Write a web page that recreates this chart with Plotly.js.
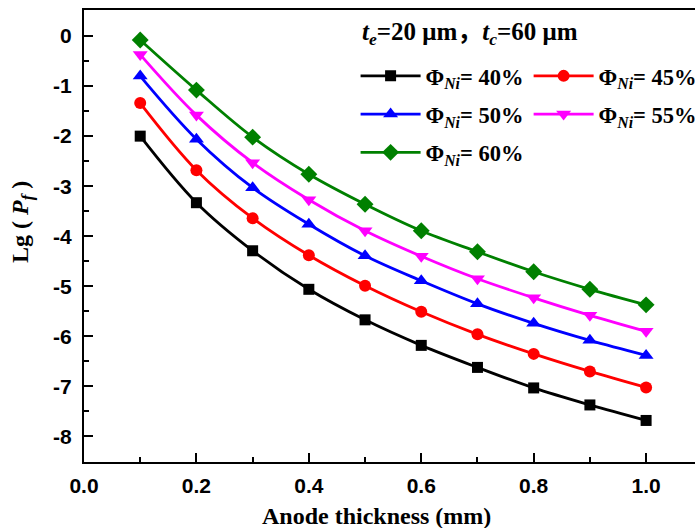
<!DOCTYPE html>
<html>
<head>
<meta charset="utf-8">
<script src="https://cdn.plot.ly/plotly-3.0.1.min.js"></script>
<style>html,body{margin:0;padding:0;background:#fff;overflow:hidden}#chart{width:695px;height:528px}</style>
</head>
<body>
<div id="chart"></div>
<script>
// Anode thickness (mm)
const thickness = [0.1, 0.2, 0.3, 0.4, 0.5, 0.6, 0.7, 0.8, 0.9, 1.0];
// Lg(Pf) for each Ni volume fraction
const ni40 = [-2.00, -3.33, -4.29, -5.06, -5.67, -6.18, -6.62, -7.03, -7.37, -7.68];
const ni45 = [-1.34, -2.68, -3.64, -4.38, -4.99, -5.51, -5.96, -6.35, -6.70, -7.02];
const ni50 = [-0.80, -2.06, -3.03, -3.76, -4.39, -4.89, -5.35, -5.74, -6.08, -6.38];
const ni55 = [-0.37, -1.58, -2.53, -3.27, -3.89, -4.40, -4.85, -5.23, -5.58, -5.90];
const ni60 = [-0.08, -1.08, -2.02, -2.76, -3.36, -3.89, -4.31, -4.71, -5.06, -5.37];
const seriesNames = ['Φ<sub><i>Ni</i></sub>= 40%', 'Φ<sub><i>Ni</i></sub>= 45%', 'Φ<sub><i>Ni</i></sub>= 50%', 'Φ<sub><i>Ni</i></sub>= 55%', 'Φ<sub><i>Ni</i></sub>= 60%'];
const yTickVals = [0, -1, -2, -3, -4, -5, -6, -7, -8];
const yTickText = ['0', '-1', '-2', '-3', '-4', '-5', '-6', '-7', '-8'];
const xTickVals = [0.0, 0.2, 0.4, 0.6, 0.8, 1.0];
const xTickText = ['0.0', '0.2', '0.4', '0.6', '0.8', '1.0'];

const serif = 'Liberation Serif, Times New Roman, Noto Sans CJK SC, serif';
const sans = 'Liberation Sans, Arial, sans-serif';

const styles = [
  {color: '#000000', symbol: 'square', size: 11, legend: 'legend'},
  {color: '#ff0000', symbol: 'circle', size: 12, legend: 'legend2'},
  {color: '#0000ff', symbol: 'triangle-up', size: 13, legend: 'legend'},
  {color: '#ff00ff', symbol: 'triangle-down', size: 13, legend: 'legend2'},
  {color: '#008000', symbol: 'diamond', size: 13, legend: 'legend'}
];
const allSeries = [ni40, ni45, ni50, ni55, ni60];

const data = allSeries.map((ys, i) => ({
  x: thickness,
  y: ys,
  type: 'scatter',
  mode: 'lines+markers',
  name: seriesNames[i],
  legend: styles[i].legend,
  legendgroup: 'g' + i,
  line: {color: styles[i].color, width: 2.8, shape: 'spline', smoothing: 1},
  marker: {color: styles[i].color, symbol: styles[i].symbol, size: styles[i].size}
}));

const legendCommon = {
  bgcolor: 'rgba(0,0,0,0)',
  borderwidth: 0,
  font: {family: serif, size: 22.5, color: '#000', weight: 'bold'},
  traceorder: 'grouped',
  tracegroupgap: 6,
  itemwidth: 60,
  xanchor: 'left',
  yanchor: 'top'
};

const layout = {
  width: 695,
  height: 528,
  margin: {l: 84, r: 0, t: 10, b: 66, autoexpand: false},
  paper_bgcolor: '#fff',
  plot_bgcolor: '#fff',
  showlegend: true,
  legend: Object.assign({}, legendCommon, {x: 0.4445, y: 0.901}),
  legend2: Object.assign({}, legendCommon, {x: 0.7277, y: 0.901}),
  xaxis: {
    range: [0, 1.087],
    tickmode: 'array',
    tickvals: xTickVals,
    ticktext: xTickText,
    ticks: 'inside',
    ticklen: 9,
    tickwidth: 2,
    tickcolor: '#000',
    showline: true,
    linewidth: 2,
    linecolor: '#000',
    mirror: true,
    showgrid: false,
    zeroline: false,
    tickfont: {family: sans, size: 21, color: '#000', weight: 'bold'},
    ticklabelstandoff: 4,
    minor: {tickmode: 'linear', tick0: 0, dtick: 0.1, ticks: 'inside', ticklen: 5, tickwidth: 2, tickcolor: '#000', showgrid: false}
  },
  yaxis: {
    range: [-8.51, 0.52],
    tickmode: 'array',
    tickvals: yTickVals,
    ticktext: yTickText,
    ticks: 'inside',
    ticklen: 9,
    tickwidth: 2,
    tickcolor: '#000',
    showline: true,
    linewidth: 2,
    linecolor: '#000',
    mirror: false,
    showgrid: false,
    zeroline: false,
    tickfont: {family: sans, size: 21, color: '#000', weight: 'bold'},
    ticklabelstandoff: 6,
    minor: {tickmode: 'linear', tick0: 0, dtick: 0.5, ticks: 'inside', ticklen: 5, tickwidth: 2, tickcolor: '#000', showgrid: false}
  },
  annotations: [
    {
      xref: 'paper', yref: 'paper', x: 0.4795, y: -0.119,
      xanchor: 'center', yanchor: 'middle', showarrow: false,
      text: 'Anode thickness (mm)',
      font: {family: serif, size: 24, color: '#000', weight: 'bold'}
    },
    {
      xref: 'paper', yref: 'paper', x: -0.1015, y: 0.531,
      xanchor: 'center', yanchor: 'middle', showarrow: false, textangle: -90,
      text: 'Lg ( <i>P</i><sub><i>f</i></sub> )',
      font: {family: serif, size: 24, color: '#000', weight: 'bold'}
    },
    {
      xref: 'paper', yref: 'paper', x: 0.4517, y: 0.947,
      xanchor: 'left', yanchor: 'middle', showarrow: false,
      text: '<i>t</i><sub><i>e</i></sub>=20 μm，<i>t</i><sub><i>c</i></sub>=60 μm',
      font: {family: serif, size: 25, color: '#000', weight: 'bold'}
    }
  ]
};

Plotly.newPlot('chart', data, layout, {displayModeBar: false, staticPlot: true});
</script>
</body>
</html>
